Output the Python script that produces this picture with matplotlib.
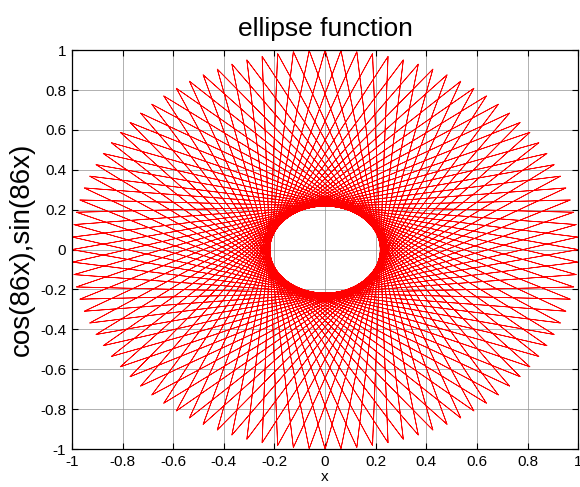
import numpy as np
import matplotlib.pyplot as plt

plt.rcParams['font.family'] = ['Liberation Sans', 'DejaVu Sans']

# parameter samples and frequency of the curve
freq = 86
x = np.linspace(0, 2 * np.pi, 201)
ticks = [-1, -0.8, -0.6, -0.4, -0.2, 0, 0.2, 0.4, 0.6, 0.8, 1]
tick_labels = ['-1', '-0.8', '-0.6', '-0.4', '-0.2', '0', '0.2', '0.4', '0.6', '0.8', '1']

fig = plt.figure(figsize=(5.8, 4.87), dpi=100)
ax = fig.add_axes([0.124, 0.078, 0.873, 0.819])

ax.plot(np.cos(freq * x), np.sin(freq * x), color='red', linewidth=0.55)

ax.set_xlim(-1, 1)
ax.set_ylim(-1, 1)
ax.set_xticks(ticks)
ax.set_xticklabels(tick_labels)
ax.set_yticks(ticks)
ax.set_yticklabels(tick_labels)
ax.tick_params(direction='in', length=4, labelsize=11, top=True, right=True,
               labeltop=False, labelright=False, width=0.8, pad=4)
ax.grid(True, color='#8c8c8c', linestyle='-', linewidth=0.6, alpha=0.8)
for s in ax.spines.values():
    s.set_linewidth(0.9)

ax.set_title('ellipse function', fontsize=19, pad=10)
ax.set_xlabel('x', fontsize=11, labelpad=1)
ax.set_ylabel('cos(86x),sin(86x)', fontsize=20, labelpad=4)

fig.savefig('out.png', dpi=100)
